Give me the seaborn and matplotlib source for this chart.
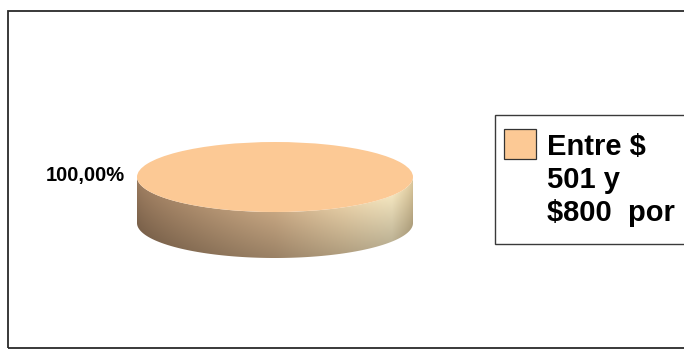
import numpy as np
import matplotlib
matplotlib.use("Agg")
import matplotlib.pyplot as plt
import seaborn as sns
from matplotlib.patches import Rectangle, PathPatch
from matplotlib.path import Path

# ---- data ----
categories = ["Entre $\n501 y\n$800  por"]
values = [100.0]
slice_colors = ["#FCC995"]

sns.set_theme(style="white")
plt.rcParams['font.family'] = ['Liberation Sans', 'DejaVu Sans']

W, H = 684, 349
fig = plt.figure(figsize=(W / 100, H / 100), dpi=100)
fig.patch.set_facecolor("white")

def fx(px):
    return px / W

def fy(py):
    return 1 - py / H

# outer chart border
fig.patches.append(Rectangle((fx(8), fy(348)), 1.2, fy(11) - fy(348),
                             transform=fig.transFigure, fill=False,
                             edgecolor="#2a2a2a", linewidth=1.3, zorder=0))

# ---- pie axes (pixel-matched) ----
cx, cy, a, b = 275, 177, 138, 35
depth = 46 / b
xl = (-1.1, 1.1)
yl = (-1 - depth - 0.14, 1.1)
left_px = cx + xl[0] * a
width_px = (xl[1] - xl[0]) * a
top_px = cy - yl[1] * b
height_px = (yl[1] - yl[0]) * b
ax = fig.add_axes([fx(left_px), fy(top_px + height_px), width_px / W, height_px / H])

wedges, _ = ax.pie(values, colors=slice_colors, radius=1, center=(0, 0),
                   startangle=90, wedgeprops=dict(linewidth=0))
for w in wedges:
    w.set_zorder(3)
ax.set_aspect('auto')
ax.set_xlim(*xl)
ax.set_ylim(*yl)
ax.axis('off')

# 3D side of the pie: gradient clipped to the side band
th = np.linspace(np.pi, 2 * np.pi, 200)
top_edge = np.column_stack([np.cos(th), np.sin(th)])
bot_edge = np.column_stack([np.cos(th[::-1]), np.sin(th[::-1]) - depth])
verts = np.vstack([top_edge, bot_edge, top_edge[:1]])
side_path = Path(verts, closed=True)
side_patch = PathPatch(side_path, facecolor="none", edgecolor="none")
ax.add_patch(side_patch)

nx, ny = 400, 200
xs = np.linspace(-1, 1, nx)
ys = np.linspace(0, -1 - depth, ny)
X, Y = np.meshgrid(xs, ys)
ytop = -np.sqrt(np.clip(1 - X ** 2, 0, 1))
t = np.clip((ytop - Y) / depth, 0, 1)
stops_x = [-1.0, -0.6, 0.0, 0.5, 0.85, 1.0]
stops_c = np.array([[156, 124, 95], [172, 140, 108], [198, 166, 130],
                    [228, 204, 164], [244, 230, 192], [222, 202, 158]]) / 255.0
base = np.stack([np.interp(X, stops_x, stops_c[:, k]) for k in range(3)], axis=-1)
shade = (1 - 0.22 * t)[..., None]
img = np.clip(base * shade, 0, 1)
im = ax.imshow(img, extent=(-1, 1, -1 - depth, 0), origin='upper',
               aspect='auto', zorder=2, interpolation='bilinear')
im.set_clip_path(side_patch)
ax.set_xlim(*xl)
ax.set_ylim(*yl)

# percentage label
pct = values[0] / sum(values) * 100
label = f"{pct:.2f}".replace('.', ',') + "%"
ax.text((125 - cx) / a, (cy - 181) / b, label, ha='right', va='baseline',
        fontsize=14.5, fontweight='bold', color='black', clip_on=False)

# ---- legend (manual, pixel matched) ----
fig.patches.append(Rectangle((fx(495), fy(244)), 1.0, fy(115) - fy(244),
                             transform=fig.transFigure, facecolor="white",
                             edgecolor="#3a3a3a", linewidth=1.0, zorder=5))
fig.patches.append(Rectangle((fx(504), fy(159)), fx(536) - fx(504), fy(129) - fy(159),
                             transform=fig.transFigure, facecolor=slice_colors[0],
                             edgecolor="#333333", linewidth=0.9, zorder=6))
for i, line in enumerate(categories[0].split("\n")):
    fig.text(fx(547), fy(155 + 33 * i), line, ha='left', va='baseline',
             fontsize=21, fontweight='bold', color='black', zorder=7)

fig.savefig("out.png", dpi=100)
